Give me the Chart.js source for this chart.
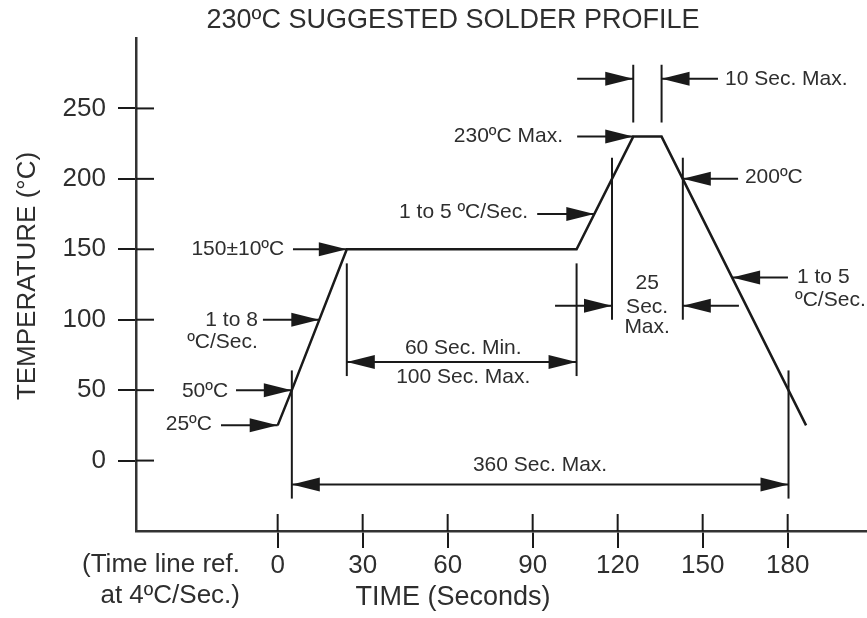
<!DOCTYPE html>
<html>
<head>
<meta charset="utf-8">
<script src="https://cdn.jsdelivr.net/npm/chart.js@4.4.1/dist/chart.umd.min.js"></script>
<style>
  html, body { margin: 0; padding: 0; background: #fff; }
  #wrap { width: 867px; height: 618px; }
</style>
</head>
<body>
<div id="wrap"><canvas id="profile" width="867" height="618"></canvas></div>
<script>
// reflow profile (time in seconds, temperature in °C)
const timeSec = [0, 5, 24.4, 105.5, 125.5, 135.5, 186.5];
const tempC = [25, 50, 150, 150, 230, 230, 25];

const xTicks = [0, 30, 60, 90, 120, 150, 180];
const yTicks = [0, 50, 100, 150, 200, 250];

// leader arrows: [tail time, tail temp, tip time, tip temp]
const leaders = [
  [5.4, 150, 24.4, 150],
  [-5.2, 100, 14.7, 100],
  [-14.7, 50, 5, 50],
  [-20, 25, 0, 25],
  [91.6, 175, 111.75, 175],
  [105.7, 230, 125.5, 230],
  [105.7, 271, 125.5, 271],
  [155.4, 271, 135.5, 271],
  [162.5, 200, 143, 200],
  [97.9, 110, 118, 110],
  [162.8, 110, 143, 110],
  [180.1, 130, 160.4, 130]
];

// dimension lines, arrow at both ends: [from time, to time, temp]
const spans = [
  [24.4, 105.5, 70],
  [5, 180.3, -17]
];

// extension lines: [time, top temp, bottom temp]
const extLines = [
  [5, 64, -27],
  [24.4, 140, 60],
  [105.5, 140, 60],
  [125.5, 281, 240],
  [135.5, 281, 240],
  [118, 215, 100],
  [143, 215, 100],
  [180.3, 64, -27]
];

// notes: [text, time, temp, align]
const notes = [
  ['150±10ºC', 2.3, 150, 'right'],
  ['1 to 8', -7, 100, 'right'],
  ['ºC/Sec.', -7, 84, 'right'],
  ['50ºC', -17.5, 49, 'right'],
  ['25ºC', -23.2, 26, 'right'],
  ['60 Sec. Min.', 65.5, 80, 'center'],
  ['100 Sec. Max.', 65.5, 59, 'center'],
  ['1 to 5 ºC/Sec.', 88.4, 176, 'right'],
  ['230ºC Max.', 100.7, 230, 'right'],
  ['10 Sec. Max.', 157.9, 271, 'left'],
  ['200ºC', 164.9, 201, 'left'],
  ['25', 130.4, 126, 'center'],
  ['Sec.', 130.4, 109, 'center'],
  ['Max.', 130.4, 95, 'center'],
  ['1 to 5', 183.3, 130, 'left'],
  ['ºC/Sec.', 182.6, 114, 'left'],
  ['360 Sec. Max.', 92.6, -3, 'center']
];

const FONT = '"Liberation Sans", Arial, Helvetica, sans-serif';
const INK = '#1a1a1a';
const TEXT = '#2e2e2e';

Chart.defaults.font.family = FONT;

function arrowHead(ctx, x0, y0, x1, y1) {
  const a = Math.atan2(y1 - y0, x1 - x0);
  const len = 28, half = 7;
  const bx = x1 - len * Math.cos(a), by = y1 - len * Math.sin(a);
  ctx.beginPath();
  ctx.moveTo(x1, y1);
  ctx.lineTo(bx + half * Math.sin(a), by - half * Math.cos(a));
  ctx.lineTo(bx - half * Math.sin(a), by + half * Math.cos(a));
  ctx.closePath();
  ctx.fill();
}

function line(ctx, x0, y0, x1, y1) {
  ctx.beginPath();
  ctx.moveTo(x0, y0);
  ctx.lineTo(x1, y1);
  ctx.stroke();
}

const annotate = {
  id: 'annotate',
  afterDraw(chart) {
    const { ctx, chartArea: area, scales: { x, y } } = chart;
    const px = t => x.getPixelForValue(t);
    const py = v => y.getPixelForValue(v);

    ctx.save();
    ctx.strokeStyle = INK;
    ctx.fillStyle = INK;
    ctx.lineWidth = 2;

    // inner half of the tick marks (outer half comes from the scales)
    yTicks.forEach(v => line(ctx, area.left, py(v), area.left + 18, py(v)));
    xTicks.forEach(v => line(ctx, px(v), area.bottom, px(v), area.bottom - 17));

    extLines.forEach(([t, top, bot]) => line(ctx, px(t), py(top), px(t), py(bot)));

    leaders.forEach(([t0, v0, t1, v1]) => {
      const x0 = px(t0), y0 = py(v0), x1 = px(t1), y1 = py(v1);
      line(ctx, x0, y0, x1, y1);
      arrowHead(ctx, x0, y0, x1, y1);
    });

    spans.forEach(([t0, t1, v]) => {
      const x0 = px(t0), x1 = px(t1), yy = py(v);
      line(ctx, x0, yy, x1, yy);
      arrowHead(ctx, x1, yy, x0, yy);
      arrowHead(ctx, x0, yy, x1, yy);
    });

    ctx.fillStyle = TEXT;
    ctx.textBaseline = 'middle';
    ctx.font = '21px ' + FONT;
    notes.forEach(([txt, t, v, align]) => {
      ctx.textAlign = align;
      ctx.fillText(txt, px(t), py(v));
    });

    // titles
    ctx.textAlign = 'center';
    ctx.font = '27px ' + FONT;
    ctx.fillText('230ºC SUGGESTED SOLDER PROFILE', 453, 21);
    ctx.fillText('TIME (Seconds)', 453, 598);

    ctx.font = '26px ' + FONT;
    ctx.textAlign = 'right';
    ctx.fillText('(Time line ref.', 240, 565);
    ctx.fillText('at 4ºC/Sec.)', 240, 596);

    ctx.translate(28, 276);
    ctx.rotate(-Math.PI / 2);
    ctx.textAlign = 'center';
    ctx.fillText('TEMPERATURE (°C)', 0, 0);
    ctx.restore();
  }
};

new Chart(document.getElementById('profile'), {
  type: 'line',
  data: {
    datasets: [{
      data: timeSec.map((t, i) => ({ x: t, y: tempC[i] })),
      borderColor: INK,
      borderWidth: 2.5,
      pointRadius: 0,
      tension: 0,
      fill: false
    }]
  },
  options: {
    responsive: false,
    animation: false,
    layout: { padding: { top: 38, right: 0, bottom: 0, left: 0 } },
    plugins: {
      legend: { display: false },
      title: { display: false },
      tooltip: { enabled: false }
    },
    scales: {
      x: {
        type: 'linear',
        min: -50,
        max: 208,
        afterBuildTicks: s => { s.ticks = xTicks.map(v => ({ value: v })); },
        afterFit: s => { s.height = 87; },
        grid: { display: true, drawOnChartArea: false, drawTicks: true, tickLength: 17, color: INK, lineWidth: 2 },
        border: { display: true, color: '#333', width: 2.5 },
        ticks: { color: TEXT, font: { size: 26 }, padding: 2, maxRotation: 0, autoSkip: false }
      },
      y: {
        type: 'linear',
        min: -50,
        max: 300,
        afterBuildTicks: s => { s.ticks = yTicks.map(v => ({ value: v })); },
        afterFit: s => { s.width = 136; },
        grid: { display: true, drawOnChartArea: false, drawTicks: true, tickLength: 18, color: INK, lineWidth: 2 },
        border: { display: true, color: '#333', width: 2.5 },
        ticks: { color: TEXT, font: { size: 26 }, padding: 12, autoSkip: false }
      }
    }
  },
  plugins: [annotate]
});
</script>
</body>
</html>
